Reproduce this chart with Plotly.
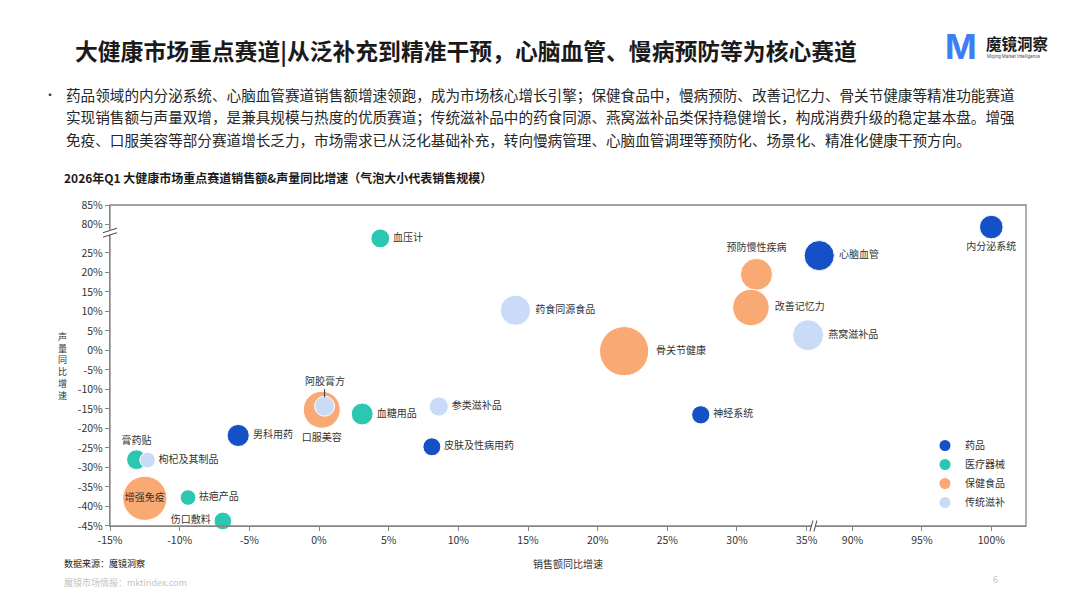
import plotly.graph_objects as go

# ── 数据 ─────────────────────────────────────────────────────────────────────
names = ["内分泌系统", "心脑血管", "神经系统", "皮肤及性病用药", "男科用药",
         "血压计", "血糖用品", "膏药贴", "祛疤产品", "伤口敷料",
         "预防慢性疾病", "改善记忆力", "骨关节健康", "口服美容", "增强免疫",
         "药食同源食品", "燕窝滋补品", "参类滋补品", "阿胶膏方", "枸杞及其制品"]
groups = ["药品"] * 5 + ["医疗器械"] * 5 + ["保健食品"] * 5 + ["传统滋补"] * 5
sales_yoy = [100.0, 35.9, 27.4, 8.1, -5.8,
             4.4, 3.1, -13.1, -9.4, -6.9,
             31.4, 31.0, 21.9, 0.2, -12.5,
             14.1, 35.1, 8.6, 0.4, -12.3]
volume_yoy = [79.4, 24.3, -16.5, -24.7, -21.8,
              28.7, -16.3, -28.0, -37.7, -43.7,
              19.5, 11.0, -0.2, -15.2, -37.9,
              10.3, 3.9, -14.4, -14.3, -28.1]
sales_scale = [5.0, 8.2, 3.0, 2.9, 4.4,
               3.2, 4.3, 3.5, 2.2, 2.8,
               9.2, 12.0, 21.8, 12.3, 17.6,
               8.2, 8.6, 3.3, 3.6, 2.2]

legend_order = ["药品", "医疗器械", "保健食品", "传统滋补"]
draw_order = ["保健食品", "医疗器械", "药品", "传统滋补"]

x_ticks_left = [-15, -10, -5, 0, 5, 10, 15, 20, 25, 30, 35]
x_ticks_right = [90, 95, 100]
y_ticks_bottom = [-45, -40, -35, -30, -25, -20, -15, -10, -5, 0, 5, 10, 15, 20, 25]
y_ticks_top = [80, 85]

# ── 样式 ─────────────────────────────────────────────────────────────────────
COLORS = {"药品": "#1451c6", "医疗器械": "#2bc7b1",
          "保健食品": "#f9aa74", "传统滋补": "#c9dbf7"}
FONT = "Noto Sans CJK SC"
TXT = "#333333"
FRAME = "#858585"

LABEL_POS = {"内分泌系统": "bottom center", "预防慢性疾病": "top center",
             "口服美容": "bottom center", "膏药贴": "top center",
             "增强免疫": "middle center", "伤口敷料": "middle left"}
CALLOUT = {"阿胶膏方"}

# 页面本身有 8px 的 body 边距，这里整体往左上挪回去
OFF = 8
W, H = 1080, 608
L, T = 110 - OFF, 205 - OFF
PW, PH = 916, 321
R, B = W - L - PW, H - T - PH

# 断轴：左段 -15%~36.2%，右段 87.9%~102.5%；下段 -45%~30.3%，上段 78.1%~85%
X_SPLIT = 0.7788
Y_SPLIT = 0.9153
X_LEFT_RANGE = [-15, 36.2]
X_RIGHT_RANGE = [87.9, 102.5]
Y_BOTTOM_RANGE = [-45, 30.3]
Y_TOP_RANGE = [78.1, 85]
X_MARK_SHIFT = -10       # 断轴“//”相对分界的像素偏移


def _px(x):
    return (x - OFF - L) / PW


def _py(y):
    return (T + PH - (y - OFF)) / PH


def _pct(vals):
    return [f"{v}%" for v in vals]


fig = go.Figure()

# 气泡：按类别 × 分段面板
for g in draw_order:
    for xr in ("x", "x2"):
        for yr in ("y", "y2"):
            idx = [i for i in range(len(names))
                   if groups[i] == g
                   and (sales_yoy[i] > 60) == (xr == "x2")
                   and (volume_yoy[i] > 55) == (yr == "y2")]
            if not idx:
                continue
            fig.add_trace(go.Scatter(
                x=[sales_yoy[i] for i in idx],
                y=[volume_yoy[i] for i in idx],
                xaxis=xr, yaxis=yr,
                mode="markers+text",
                marker=dict(size=[sales_scale[i] for i in idx], sizemode="area",
                            sizeref=0.018, color=COLORS[g], opacity=1,
                            line=dict(width=1, color="white")),
                text=["" if names[i] in CALLOUT else names[i] for i in idx],
                textposition=[LABEL_POS.get(names[i], "middle right") for i in idx],
                textfont=dict(size=10, color=TXT, family=FONT),
                cliponaxis=False, showlegend=False, hoverinfo="skip",
            ))

# 图例
for g in legend_order:
    fig.add_trace(go.Scatter(
        x=[None], y=[None], mode="markers", name=g,
        marker=dict(size=11, color=COLORS[g]),
    ))

# 引线标签
for i, n in enumerate(names):
    if n in CALLOUT:
        fig.add_annotation(
            x=sales_yoy[i], y=volume_yoy[i], xref="x", yref="y", text=n,
            showarrow=True, arrowhead=0, arrowwidth=1, arrowcolor=TXT,
            ax=0, ay=-26, standoff=9, font=dict(size=10, color=TXT, family=FONT),
        )

axis_common = dict(
    showline=True, linecolor=FRAME, linewidth=1.3, ticks="outside",
    ticklen=4, tickcolor=FRAME, showgrid=False, zeroline=False,
    tickfont=dict(size=10.5, color=TXT, family=FONT),
)

fig.update_layout(
    width=W, height=H,
    margin=dict(l=L, r=R, t=T, b=B),
    paper_bgcolor="white", plot_bgcolor="white",
    font=dict(family=FONT, color=TXT),
    xaxis=dict(domain=[0, X_SPLIT], range=X_LEFT_RANGE, anchor="y",
               tickvals=x_ticks_left, ticktext=_pct(x_ticks_left), **axis_common),
    xaxis2=dict(domain=[X_SPLIT, 1], range=X_RIGHT_RANGE, anchor="y",
                tickvals=x_ticks_right, ticktext=_pct(x_ticks_right), **axis_common),
    yaxis=dict(domain=[0, Y_SPLIT], range=Y_BOTTOM_RANGE, anchor="x",
               tickvals=y_ticks_bottom, ticktext=_pct(y_ticks_bottom), **axis_common),
    yaxis2=dict(domain=[Y_SPLIT, 1], range=Y_TOP_RANGE, anchor="x",
                tickvals=y_ticks_top, ticktext=_pct(y_ticks_top), **axis_common),
    legend=dict(x=_px(925), y=_py(431), xanchor="left", yanchor="top",
                font=dict(size=10, color=TXT, family=FONT),
                bgcolor="rgba(0,0,0,0)", tracegroupgap=0, itemsizing="trace"),
)

# 外框 + 断轴标记
shapes = [dict(type="rect", xref="paper", yref="paper", x0=0, x1=1, y0=0, y1=1,
               line=dict(color=FRAME, width=1.3))]
# y 轴断点
yb = dict(xref="paper", yref="paper", xsizemode="pixel", ysizemode="pixel",
          xanchor=0, yanchor=Y_SPLIT)
shapes.append(dict(type="rect", x0=-2, x1=2, y0=-2.5, y1=2.5,
                   fillcolor="white", line=dict(width=0), **yb))
shapes.append(dict(type="line", x0=-7, x1=7, y0=-0.5, y1=4,
                   line=dict(color="#444", width=1), **yb))
shapes.append(dict(type="line", x0=-7, x1=7, y0=-5, y1=-0.5,
                   line=dict(color="#444", width=1), **yb))
# x 轴断点
xb = dict(xref="paper", yref="paper", xsizemode="pixel", ysizemode="pixel",
          xanchor=X_SPLIT, yanchor=0)
s = X_MARK_SHIFT
shapes.append(dict(type="rect", x0=s - 2, x1=s + 2.5, y0=-2, y1=2,
                   fillcolor="white", line=dict(width=0), **xb))
shapes.append(dict(type="line", x0=s - 3.5, x1=s - 0.5, y0=-5.5, y1=5.5,
                   line=dict(color="#444", width=1), **xb))
shapes.append(dict(type="line", x0=s + 0.5, x1=s + 3.5, y0=-5.5, y1=5.5,
                   line=dict(color="#444", width=1), **xb))
fig.update_layout(shapes=shapes)


def note(x, y, text, size, color=TXT, xanchor="left", bold=False, family=FONT):
    fig.add_annotation(
        x=_px(x), y=_py(y), xref="paper", yref="paper",
        text=f"<b>{text}</b>" if bold else text,
        showarrow=False, xanchor=xanchor, yanchor="middle",
        font=dict(size=size, color=color, family=family),
    )


# 标题与说明
note(73, 50, "大健康市场重点赛道|从泛补充到精准干预，心脑血管、慢病预防等为核心赛道",
     22.8, "#1a1a1a", bold=True)
note(42, 94, "•", 12)
para = [
    "药品领域的内分泌系统、心脑血管赛道销售额增速领跑，成为市场核心增长引擎；保健食品中，慢病预防、改善记忆力、骨关节健康等精准功能赛道",
    "实现销售额与声量双增，是兼具规模与热度的优质赛道；传统滋补品中的药食同源、燕窝滋补品类保持稳健增长，构成消费升级的稳定基本盘。增强",
    "免疫、口服美容等部分赛道增长乏力，市场需求已从泛化基础补充，转向慢病管理、心脑血管调理等预防化、场景化、精准化健康干预方向。",
]
for k, line in enumerate(para):
    note(64, 95 + 22 * k, line, 14.6, "#262626")

note(62, 177, "2026年Q1 大健康市场重点赛道销售额&声量同比增速（气泡大小代表销售规模）",
     12, "#1a1a1a", bold=True)

# logo
note(943, 46, "M", 34, "#3f7ef2", bold=True, family="Inter")
note(984, 43, "魔镜洞察", 15.5, "#1a1a1a", bold=True)
note(985, 56, "Mojing Market Intelligence", 4.5, "#555555", family="Roboto")

# 轴标题
note(62, 366, "<br>".join("声量同比增速"), 9, TXT, xanchor="center")
note(568, 563, "销售额同比增速", 10, TXT, xanchor="center")

# 页脚
note(62, 563, "数据来源：魔镜洞察", 9, "#222222")
note(62, 582, "魔镜市场情报：mktindex.com", 9, "#c4c4c4")
note(995, 579, "6", 9, "#c4c4c4", xanchor="center")

fig.write_html("out.html")
